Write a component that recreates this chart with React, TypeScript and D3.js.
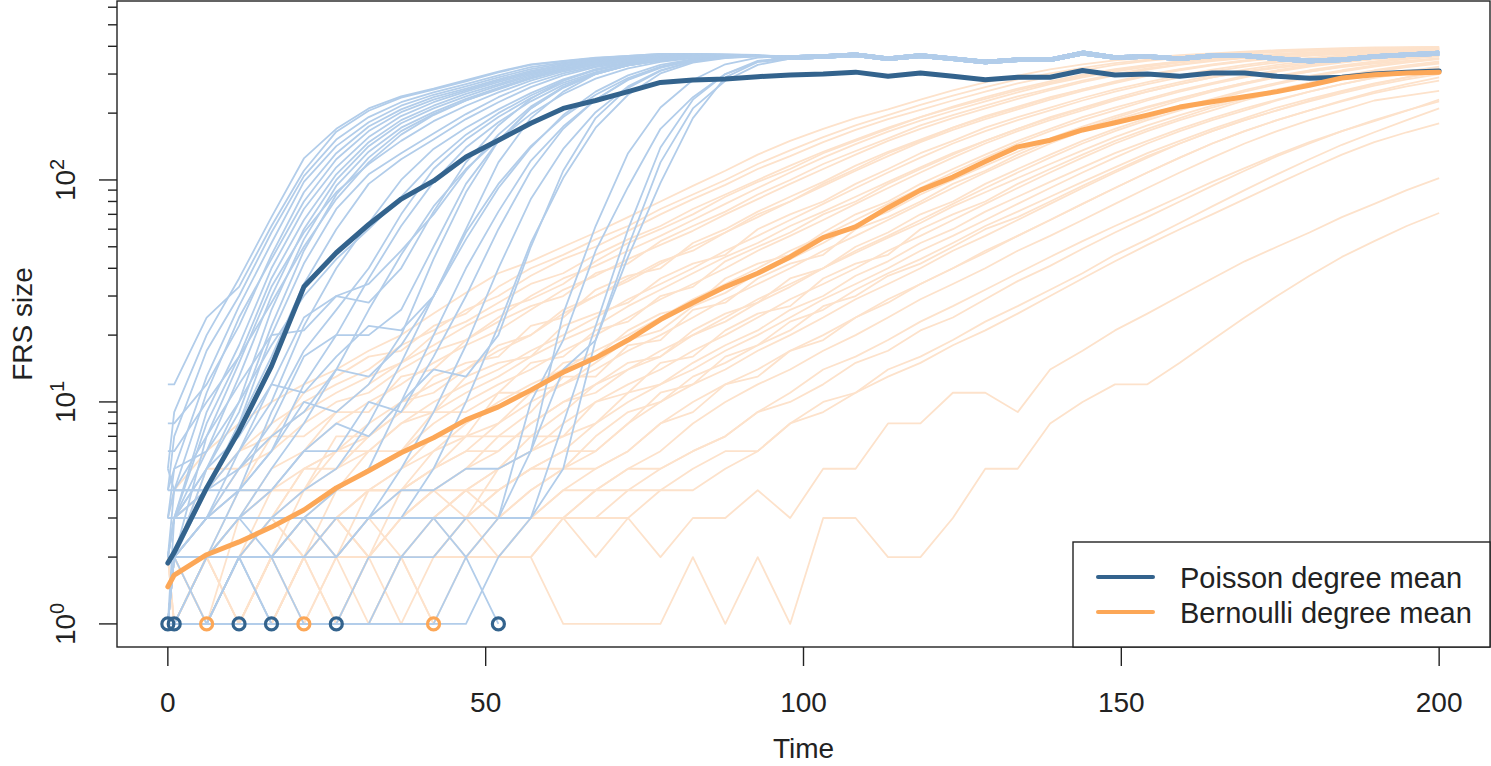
import { useEffect, useRef } from 'react'
import * as d3 from 'd3'

// sampling times: 0, then 40 steps from 1 to 200
const times = [
  0, 1, 6.1, 11.2, 16.3, 21.4, 26.5, 31.6, 36.7, 41.8, 46.9, 52.0, 57.1, 62.2, 67.3, 72.4, 77.5, 82.6, 87.7, 92.8,
  97.9, 103.1, 108.2, 113.3, 118.4, 123.5, 128.6, 133.7, 138.8, 143.9, 149.0, 154.1, 159.2, 164.3, 169.4, 174.5,
  179.6, 184.7, 189.8, 194.9, 200,
]

const poissonMean = [
  1.88, 2.1, 4.1, 7.4, 14.5, 33, 47, 63, 82, 99, 127, 151, 180, 210, 228, 250, 275, 282, 285, 292, 297, 300, 306,
  293, 303, 293, 283, 290, 290, 311, 297, 300, 293, 303, 303, 293, 287, 290, 300, 306, 310,
]

const bernoulliMean = [
  1.47, 1.66, 2.05, 2.34, 2.73, 3.26, 4.1, 4.9, 5.9, 6.9, 8.3, 9.5, 11.3, 13.6, 15.8, 19, 23.5, 28, 33, 38, 45, 55,
  61.5, 75, 90, 103, 121, 141, 151, 168, 181, 196, 213, 225, 237, 250, 267, 288, 298, 303, 306,
]

// the level all Poisson runs settle on (index 20 onwards)
const plateauA = [356, 360, 367, 352, 364, 352, 340, 348, 348, 373, 356, 360, 352, 364, 364, 352, 344, 348, 360, 367, 372]
const plateauB = [351, 355, 361, 347, 358, 347, 335, 343, 343, 367, 351, 355, 347, 358, 358, 347, 339, 343, 355, 361, 366]
const plateauC = [361, 365, 372, 357, 369, 357, 345, 353, 353, 379, 361, 365, 357, 369, 369, 357, 349, 353, 365, 372, 378]

// Poisson runs up to the plateau
const poissonFast = [
  [12, 12, 24, 33, 62, 110, 165, 205, 235, 255, 278, 305, 330, 342, 354, 362, 370, 370, 368, 366],
  [5, 9, 20, 36, 68, 125, 170, 210, 238, 258, 282, 308, 332, 344, 356, 362, 370, 370, 368, 364],
  [4, 7, 17, 30, 58, 104, 152, 192, 224, 248, 270, 296, 322, 338, 350, 358, 366, 368, 366, 363],
  [3, 5, 13, 27, 52, 98, 142, 182, 216, 242, 264, 290, 316, 334, 348, 356, 364, 368, 366, 362],
  [8, 8, 12, 22, 46, 88, 132, 174, 208, 236, 258, 284, 310, 330, 346, 354, 362, 366, 366, 363],
  [2, 4, 11, 24, 44, 80, 124, 166, 202, 230, 254, 280, 306, 328, 344, 352, 362, 366, 364, 362],
  [3, 3, 9, 18, 40, 74, 114, 156, 194, 224, 250, 276, 302, 324, 342, 350, 360, 366, 364, 361],
  [2, 3, 8, 16, 36, 66, 106, 148, 186, 216, 244, 270, 298, 322, 340, 350, 360, 364, 364, 362],
  [4, 5, 6, 13, 30, 60, 100, 142, 180, 210, 238, 266, 294, 318, 336, 348, 358, 364, 364, 362],
  [1, 2, 7, 15, 33, 58, 88, 118, 150, 184, 216, 248, 280, 308, 330, 344, 356, 362, 362, 361],
  [3, 3, 5, 10, 26, 54, 94, 134, 172, 202, 232, 260, 290, 316, 336, 346, 356, 362, 364, 362],
  [2, 2, 5, 9, 22, 48, 86, 126, 166, 198, 228, 256, 286, 312, 334, 346, 356, 362, 364, 362],
  [3, 4, 7, 12, 20, 21, 30, 34, 48, 70, 110, 160, 214, 262, 300, 328, 346, 356, 360, 362],
  [6, 6, 10, 16, 28, 50, 82, 120, 160, 196, 228, 258, 288, 314, 334, 346, 356, 362, 364, 362],
  [2, 3, 6, 10, 18, 30, 44, 60, 84, 120, 160, 200, 240, 280, 312, 334, 350, 358, 362, 362],
]

const poissonMid = [
  [1, 3, 4, 8, 20, 42, 74, 106, 132, 162, 198, 236, 272, 302, 326, 342, 354, 362, 364, 362],
  [2, 2, 4, 8, 16, 34, 60, 96, 124, 152, 188, 224, 262, 296, 322, 338, 352, 360, 362, 362],
  [5, 4, 4, 6, 12, 24, 30, 28, 40, 72, 120, 176, 232, 280, 316, 338, 352, 360, 362, 362],
  [1, 2, 3, 6, 10, 22, 40, 64, 100, 138, 172, 208, 246, 284, 314, 334, 348, 358, 362, 362],
  [3, 3, 3, 5, 8, 16, 20, 20, 26, 50, 96, 150, 210, 262, 302, 328, 346, 356, 360, 362],
  [2, 2, 3, 4, 9, 17, 26, 40, 70, 112, 152, 192, 234, 274, 306, 330, 346, 356, 360, 362],
  [1, 1, 2, 4, 6, 12, 20, 36, 62, 98, 140, 182, 226, 268, 302, 328, 346, 356, 360, 362],
  [4, 4, 4, 4, 6, 10, 9, 12, 20, 44, 88, 150, 210, 260, 300, 328, 346, 356, 360, 362],
  [2, 2, 2, 3, 5, 8, 14, 26, 46, 76, 112, 152, 198, 244, 286, 318, 340, 354, 360, 362],
  [2, 3, 5, 7, 12, 11, 16, 22, 21, 30, 60, 120, 190, 250, 300, 330, 348, 358, 362, 362],
  [3, 3, 4, 5, 7, 9, 14, 13, 18, 30, 54, 92, 140, 196, 250, 296, 330, 350, 358, 362],
  [2, 2, 3, 3, 4, 6, 6, 10, 9, 16, 30, 60, 110, 170, 230, 284, 322, 346, 358, 362],
]

const poissonLate = [
  [1, 1, 2, 3, 3, 4, 5, 8, 15, 30, 58, 96, 142, 192, 242, 288, 324, 348, 358, 362],
  [2, 2, 2, 2, 3, 3, 4, 5, 10, 20, 40, 72, 122, 174, 230, 282, 320, 346, 358, 362],
  [1, 1, 1, 2, 2, 3, 3, 3, 5, 9, 18, 40, 82, 138, 202, 264, 312, 342, 356, 360],
  [1, 2, 2, 2, 2, 3, 2, 3, 3, 5, 10, 22, 52, 102, 172, 242, 302, 338, 354, 360],
  [1, 2, 3, 4, 4, 6, 8, 7, 10, 14, 13, 20, 50, 110, 190, 260, 310, 342, 356, 362],
  [3, 3, 3, 3, 2, 2, 3, 3, 4, 4, 5, 5, 6, 25, 62, 132, 212, 282, 332, 356],
  [1, 1, 1, 1, 1, 1, 1, 1, 2, 3, 3, 3, 10, 19, 48, 93, 170, 236, 300, 344],
  [1, 1, 1, 2, 2, 1, 1, 2, 2, 2, 3, 3, 6, 14, 19, 45, 97, 190, 290, 340],
  [2, 2, 2, 2, 2, 2, 2, 3, 3, 3, 2, 3, 3, 5, 19, 50, 120, 210, 280, 330, 352, 360],
  [1, 1, 1, 1, 1, 1, 1, 1, 1, 1, 1, 2, 3, 8, 22, 60, 140, 230, 300, 340, 356],
]

// Poisson runs that stop at size 1
const poissonStopped = [
  [1],
  [1, 1],
  [1, 1, 1, 1],
  [1, 2, 1, 2, 1],
  [1, 1, 1, 2, 1, 1, 1],
  [1, 1, 1, 1, 1, 1, 1, 1, 1, 1, 2, 1],
]

const bernoulliRuns = [
  [3, 4, 6, 8, 10, 12, 14, 17, 20, 25, 31, 38, 43, 50, 58, 68, 80, 94, 110, 130, 150, 170, 190, 208, 230, 253, 275, 295, 315, 332, 346, 356, 365, 372, 378, 384, 388, 392, 395, 397, 398],
  [2, 3, 4, 6, 8, 10, 12, 14, 18, 21, 26, 30, 37, 44, 50, 59, 70, 82, 95, 112, 128, 148, 168, 188, 207, 228, 250, 272, 292, 312, 330, 344, 355, 364, 371, 377, 382, 387, 390, 393, 395],
  [2, 2, 5, 5, 7, 11, 13, 16, 17, 22, 25, 33, 40, 46, 54, 62, 74, 86, 100, 118, 136, 156, 176, 196, 218, 240, 262, 284, 302, 320, 336, 348, 358, 366, 373, 379, 384, 388, 391, 394, 396],
  [3, 3, 4, 6, 7, 9, 11, 13, 15, 20, 23, 28, 34, 38, 46, 54, 62, 74, 86, 100, 116, 134, 152, 172, 192, 212, 232, 254, 274, 294, 312, 328, 342, 352, 361, 368, 374, 379, 383, 387, 390],
  [2, 2, 3, 5, 6, 8, 10, 11, 14, 17, 19, 24, 30, 36, 41, 48, 56, 66, 78, 92, 108, 126, 145, 165, 185, 205, 226, 248, 270, 290, 308, 324, 338, 350, 360, 368, 375, 380, 385, 388, 390],
  [1, 2, 3, 4, 7, 7, 9, 12, 15, 18, 22, 26, 29, 34, 43, 52, 60, 70, 84, 98, 112, 132, 150, 170, 192, 214, 236, 258, 278, 298, 316, 330, 342, 354, 362, 370, 376, 381, 386, 389, 392],
  [1, 2, 2, 3, 5, 6, 8, 10, 12, 15, 18, 21, 26, 32, 37, 44, 51, 59, 70, 82, 96, 112, 130, 150, 170, 190, 210, 232, 254, 276, 296, 314, 330, 343, 354, 363, 370, 376, 381, 385, 388],
  [2, 1, 2, 4, 4, 6, 9, 9, 13, 14, 19, 23, 27, 30, 38, 42, 53, 62, 72, 86, 100, 118, 135, 154, 176, 196, 216, 238, 258, 280, 300, 318, 332, 346, 356, 364, 371, 377, 382, 386, 389],
  [1, 1, 2, 3, 3, 5, 6, 7, 10, 11, 14, 18, 20, 26, 30, 36, 43, 48, 58, 70, 80, 96, 112, 132, 150, 172, 192, 212, 234, 256, 276, 296, 314, 330, 344, 355, 364, 371, 377, 382, 386],
  [1, 2, 2, 3, 4, 4, 6, 6, 8, 9, 11, 13, 16, 19, 22, 27, 32, 38, 45, 52, 62, 72, 84, 98, 114, 132, 150, 170, 190, 210, 230, 250, 270, 290, 306, 320, 332, 342, 350, 357, 362],
  [1, 1, 2, 3, 4, 5, 6, 8, 10, 12, 14, 17, 20, 25, 30, 35, 42, 50, 58, 68, 80, 94, 110, 128, 148, 168, 188, 208, 230, 252, 273, 294, 312, 328, 342, 354, 363, 370, 376, 381, 385],
  [1, 2, 2, 2, 4, 4, 7, 7, 9, 13, 15, 16, 22, 24, 32, 37, 40, 52, 60, 72, 84, 98, 116, 134, 152, 172, 194, 214, 236, 256, 278, 298, 316, 332, 346, 356, 364, 371, 377, 382, 386],
  [1, 1, 2, 2, 3, 4, 5, 6, 8, 10, 12, 14, 17, 20, 24, 29, 34, 40, 48, 56, 66, 78, 92, 108, 126, 146, 166, 186, 206, 228, 250, 270, 290, 308, 324, 338, 350, 359, 367, 373, 378],
  [2, 2, 1, 3, 3, 5, 5, 7, 9, 9, 13, 15, 16, 22, 25, 28, 36, 42, 46, 60, 70, 80, 96, 112, 132, 150, 172, 192, 212, 234, 256, 276, 296, 314, 330, 344, 355, 364, 371, 377, 382],
  [1, 1, 2, 2, 2, 2, 3, 4, 4, 5, 6, 6, 8, 10, 11, 14, 16, 20, 23, 28, 33, 40, 47, 55, 64, 76, 88, 102, 118, 136, 156, 176, 196, 216, 236, 256, 274, 292, 308, 322, 334],
  [1, 1, 1, 2, 3, 3, 4, 5, 6, 8, 10, 12, 14, 17, 20, 24, 29, 34, 40, 48, 56, 66, 78, 92, 108, 126, 146, 166, 186, 206, 228, 250, 270, 290, 308, 324, 338, 350, 360, 368, 374],
  [1, 2, 2, 2, 2, 4, 4, 6, 6, 9, 9, 11, 15, 16, 21, 23, 30, 33, 43, 50, 58, 70, 80, 96, 112, 130, 150, 170, 192, 212, 234, 256, 276, 296, 314, 330, 344, 355, 364, 371, 377],
  [2, 2, 2, 2, 3, 3, 3, 4, 4, 6, 7, 8, 11, 12, 15, 19, 21, 27, 31, 38, 44, 52, 63, 72, 86, 100, 116, 134, 154, 174, 194, 214, 234, 254, 274, 292, 308, 322, 334, 344, 352],
  [1, 1, 1, 2, 2, 3, 3, 4, 5, 6, 8, 10, 12, 14, 17, 20, 24, 29, 34, 40, 48, 56, 66, 78, 92, 108, 126, 146, 166, 186, 206, 228, 250, 270, 290, 308, 324, 338, 350, 360, 368],
  [2, 1, 2, 2, 3, 2, 4, 4, 5, 7, 7, 11, 11, 15, 16, 21, 25, 27, 36, 42, 46, 58, 70, 80, 96, 112, 130, 150, 170, 192, 212, 232, 254, 274, 294, 312, 328, 342, 354, 363, 371],
  [1, 1, 1, 2, 2, 2, 3, 3, 3, 4, 4, 5, 6, 7, 8, 11, 12, 15, 18, 21, 26, 30, 37, 43, 52, 60, 72, 84, 98, 114, 132, 150, 170, 190, 210, 230, 250, 270, 288, 304, 318],
  [1, 1, 1, 1, 2, 2, 3, 3, 4, 5, 6, 8, 10, 12, 14, 17, 20, 24, 29, 34, 40, 48, 56, 66, 78, 92, 108, 126, 146, 166, 186, 206, 228, 250, 270, 290, 308, 324, 338, 350, 360],
  [1, 1, 2, 1, 2, 3, 2, 4, 4, 5, 7, 7, 9, 13, 13, 18, 19, 26, 28, 36, 42, 46, 60, 68, 80, 96, 110, 130, 150, 170, 190, 212, 232, 254, 274, 294, 312, 328, 342, 354, 363],
  [1, 1, 1, 1, 1, 2, 2, 3, 3, 4, 5, 6, 8, 10, 12, 14, 17, 20, 24, 29, 34, 40, 48, 56, 66, 78, 92, 108, 126, 146, 166, 186, 206, 228, 250, 270, 290, 308, 324, 338, 350],
  [2, 2, 1, 1, 2, 2, 3, 2, 4, 4, 5, 7, 7, 9, 12, 15, 16, 21, 25, 28, 36, 40, 50, 58, 70, 80, 96, 112, 130, 150, 170, 190, 212, 232, 254, 274, 294, 312, 328, 342, 354],
  [2, 1, 2, 2, 2, 3, 3, 2, 3, 3, 4, 3, 4, 5, 5, 6, 8, 9, 12, 13, 17, 19, 24, 28, 34, 40, 47, 56, 66, 78, 92, 108, 126, 146, 166, 186, 206, 226, 246, 264, 280],
  [1, 1, 1, 1, 1, 1, 2, 2, 3, 3, 4, 5, 6, 8, 10, 12, 14, 17, 20, 24, 29, 34, 40, 48, 56, 66, 78, 92, 108, 126, 146, 166, 186, 206, 228, 250, 270, 290, 308, 324, 338],
  [1, 1, 2, 2, 1, 2, 2, 3, 3, 4, 3, 5, 7, 7, 10, 11, 15, 16, 21, 25, 27, 36, 42, 46, 60, 70, 80, 96, 112, 130, 150, 170, 190, 212, 232, 254, 274, 294, 312, 328, 342],
  [1, 1, 1, 1, 1, 2, 1, 2, 2, 3, 3, 4, 5, 6, 8, 10, 12, 14, 17, 20, 24, 29, 34, 40, 48, 56, 66, 78, 92, 108, 126, 146, 166, 186, 206, 228, 250, 270, 290, 308, 324],
  [1, 1, 1, 1, 2, 2, 2, 2, 3, 3, 3, 4, 5, 5, 7, 9, 10, 13, 15, 18, 23, 26, 32, 38, 44, 52, 62, 72, 84, 98, 114, 132, 150, 170, 190, 212, 232, 252, 272, 290, 306],
  [1, 1, 1, 1, 1, 1, 1, 2, 2, 2, 3, 3, 4, 5, 6, 8, 10, 12, 14, 17, 20, 24, 29, 34, 40, 48, 56, 66, 78, 92, 108, 126, 146, 166, 186, 206, 228, 250, 270, 290, 308],
  [1, 2, 1, 2, 2, 3, 2, 3, 3, 3, 4, 4, 5, 6, 6, 8, 11, 12, 16, 18, 21, 27, 30, 37, 42, 50, 60, 68, 80, 94, 110, 128, 146, 166, 186, 206, 226, 246, 266, 284, 300],
  [1, 1, 1, 1, 2, 1, 1, 1, 2, 2, 2, 3, 3, 4, 5, 6, 8, 10, 12, 14, 17, 20, 24, 29, 34, 40, 48, 56, 66, 78, 92, 108, 126, 146, 166, 186, 206, 228, 250, 270, 290],
  [1, 1, 1, 1, 1, 1, 2, 2, 1, 2, 2, 2, 3, 3, 4, 5, 6, 8, 10, 12, 14, 17, 20, 24, 29, 34, 40, 48, 56, 66, 78, 92, 108, 126, 146, 166, 186, 206, 228, 240, 252],
  [1, 1, 1, 1, 1, 2, 2, 2, 2, 2, 3, 3, 3, 4, 4, 5, 5, 6, 7, 9, 10, 12, 15, 17, 21, 24, 29, 35, 41, 49, 58, 68, 80, 94, 110, 128, 146, 166, 186, 206, 226],
  [1, 1, 1, 1, 1, 1, 1, 1, 2, 2, 2, 2, 2, 3, 3, 4, 5, 6, 7, 9, 11, 14, 16, 19, 23, 27, 32, 38, 45, 53, 62, 72, 84, 98, 113, 130, 148, 166, 184, 205, 230],
  [1, 1, 1, 1, 2, 2, 1, 2, 2, 2, 2, 3, 3, 3, 4, 4, 4, 5, 6, 6, 8, 10, 11, 14, 16, 19, 23, 27, 32, 38, 46, 54, 64, 76, 90, 106, 124, 144, 164, 186, 210],
  [1, 1, 1, 1, 1, 1, 1, 2, 2, 1, 2, 2, 3, 3, 3, 3, 4, 4, 5, 6, 8, 9, 11, 13, 15, 18, 21, 25, 30, 36, 43, 51, 60, 70, 82, 96, 112, 130, 148, 164, 180],
  [1, 1, 2, 1, 1, 2, 2, 1, 2, 2, 3, 2, 2, 3, 2, 3, 2, 3, 3, 4, 3, 5, 5, 8, 8, 11, 11, 9, 14, 17, 21, 25, 30, 36, 43, 50, 58, 68, 78, 90, 102],
  [1, 1, 2, 1, 2, 2, 3, 2, 2, 3, 2, 2, 2, 1, 1, 1, 1, 2, 1, 2, 1, 3, 3, 2, 2, 3, 5, 5, 8, 10, 12, 12, 15, 19, 24, 30, 37, 45, 53, 62, 71],
]

const bernoulliStopped = [
  [1, 1, 1],
  [1, 2, 1, 2, 2, 1],
  [1, 1, 2, 2, 3, 2, 2, 3, 2, 1],
]

const legendItems = ['Poisson degree mean', 'Bernoulli degree mean']

const width = 1491
const height = 766
const box = { left: 117, right: 1490, top: 1, bottom: 647 }
const font = '"Liberation Sans", Arial, Helvetica, sans-serif'
const ink = '#222'
const colors = {
  poissonLight: '#b2cdea',
  bernoulliLight: '#fde2cb',
  poisson: '#33638d',
  bernoulli: '#fca757',
}

export default function App() {
  const svgRef = useRef<SVGSVGElement | null>(null)

  useEffect(() => {
    const svgElement = svgRef.current
    if (!svgElement) return
    const svg = d3.select(svgElement)
    svg.selectAll('*').remove()

    const x = d3.scaleLinear().domain([-8, 208]).range([box.left, box.right])
    const y = d3.scaleLog().domain([0.787, 640]).range([box.bottom, box.top])

    const line = d3
      .line<number>()
      .x((_, i) => x(times[i]))
      .y((d) => y(d))

    const plateaus = [plateauA, plateauB, plateauC]
    const poissonRuns = [...poissonFast, ...poissonMid, ...poissonLate].map((head, i) =>
      head.concat(plateaus[i % 3].slice(head.length - 20)),
    )

    const drawRuns = (runs: number[][], color: string) => {
      svg
        .append('g')
        .selectAll('path')
        .data(runs.filter((r) => r.length > 1))
        .join('path')
        .attr('d', (d) => line(d))
        .attr('fill', 'none')
        .attr('stroke', color)
        .attr('stroke-width', 1.8)
        .attr('stroke-linejoin', 'round')
    }

    svg.append('rect').attr('width', width).attr('height', height).attr('fill', '#fff')

    drawRuns([...bernoulliRuns, ...bernoulliStopped], colors.bernoulliLight)
    drawRuns([...poissonRuns, ...poissonStopped], colors.poissonLight)

    const drawMean = (values: number[], color: string) => {
      svg
        .append('path')
        .datum(values)
        .attr('d', line)
        .attr('fill', 'none')
        .attr('stroke', color)
        .attr('stroke-width', 5)
        .attr('stroke-linejoin', 'round')
        .attr('stroke-linecap', 'round')
    }
    drawMean(poissonMean, colors.poisson)
    drawMean(bernoulliMean, colors.bernoulli)

    // circles where a run stopped
    const ends = [
      ...poissonStopped.map((r) => ({ t: times[r.length - 1], v: r[r.length - 1], c: colors.poisson })),
      ...bernoulliStopped.map((r) => ({ t: times[r.length - 1], v: r[r.length - 1], c: colors.bernoulli })),
    ]
    svg
      .append('g')
      .selectAll('circle')
      .data(ends)
      .join('circle')
      .attr('cx', (d) => x(d.t))
      .attr('cy', (d) => y(d.v))
      .attr('r', 6)
      .attr('fill', 'none')
      .attr('stroke', (d) => d.c)
      .attr('stroke-width', 3.2)

    // frame
    svg
      .append('rect')
      .attr('x', box.left)
      .attr('y', box.top)
      .attr('width', box.right - box.left)
      .attr('height', box.bottom - box.top)
      .attr('fill', 'none')
      .attr('stroke', ink)
      .attr('stroke-width', 1.4)

    // x axis
    const xTicks = [0, 50, 100, 150, 200]
    const xAxis = svg.append('g')
    xTicks.forEach((t) => {
      xAxis
        .append('line')
        .attr('x1', x(t))
        .attr('x2', x(t))
        .attr('y1', box.bottom)
        .attr('y2', box.bottom + 19)
        .attr('stroke', ink)
        .attr('stroke-width', 1.4)
      xAxis
        .append('text')
        .attr('x', x(t))
        .attr('y', 712)
        .attr('text-anchor', 'middle')
        .attr('font-family', font)
        .attr('font-size', 28)
        .attr('fill', ink)
        .text(t)
    })

    // y axis, log ticks
    const yMajor = [1, 10, 100]
    const yMinor = [2, 3, 4, 5, 6, 7, 8, 9, 20, 30, 40, 50, 60, 70, 80, 90, 200, 300, 400, 500, 600]
    const yAxis = svg.append('g')
    yMinor.forEach((v) => {
      yAxis
        .append('line')
        .attr('x1', box.left - 9)
        .attr('x2', box.left)
        .attr('y1', y(v))
        .attr('y2', y(v))
        .attr('stroke', ink)
        .attr('stroke-width', 1.4)
    })
    yMajor.forEach((v, i) => {
      yAxis
        .append('line')
        .attr('x1', box.left - 18)
        .attr('x2', box.left)
        .attr('y1', y(v))
        .attr('y2', y(v))
        .attr('stroke', ink)
        .attr('stroke-width', 1.4)
      const label = yAxis
        .append('text')
        .attr('transform', `translate(75,${y(v)}) rotate(-90)`)
        .attr('text-anchor', 'middle')
        .attr('font-family', font)
        .attr('font-size', 28)
        .attr('fill', ink)
      label.append('tspan').text('10')
      label.append('tspan').attr('dy', -11).attr('font-size', 20).text(String(i))
    })

    svg
      .append('text')
      .attr('x', (box.left + box.right) / 2)
      .attr('y', 758)
      .attr('text-anchor', 'middle')
      .attr('font-family', font)
      .attr('font-size', 28)
      .attr('fill', ink)
      .text('Time')

    svg
      .append('text')
      .attr('transform', `translate(32,${(box.top + box.bottom) / 2}) rotate(-90)`)
      .attr('text-anchor', 'middle')
      .attr('font-family', font)
      .attr('font-size', 28)
      .attr('fill', ink)
      .text('FRS size')

    // legend
    const legend = svg.append('g')
    legend
      .append('rect')
      .attr('x', 1073)
      .attr('y', 542)
      .attr('width', box.right - 1073)
      .attr('height', box.bottom - 542)
      .attr('fill', '#fff')
      .attr('stroke', ink)
      .attr('stroke-width', 1.4)
    const legendColors = [colors.poisson, colors.bernoulli]
    legendItems.forEach((name, i) => {
      const ly = 577 + i * 35
      legend
        .append('line')
        .attr('x1', 1098)
        .attr('x2', 1153)
        .attr('y1', ly)
        .attr('y2', ly)
        .attr('stroke', legendColors[i])
        .attr('stroke-width', 4)
        .attr('stroke-linecap', 'round')
      legend
        .append('text')
        .attr('x', 1180)
        .attr('y', ly + 11)
        .attr('font-family', font)
        .attr('font-size', 29)
        .attr('fill', ink)
        .text(name)
    })
  }, [])

  return (
    <svg
      ref={svgRef}
      width={width}
      height={height}
      style={{ position: 'absolute', left: 0, top: 0, display: 'block' }}
    />
  )
}
